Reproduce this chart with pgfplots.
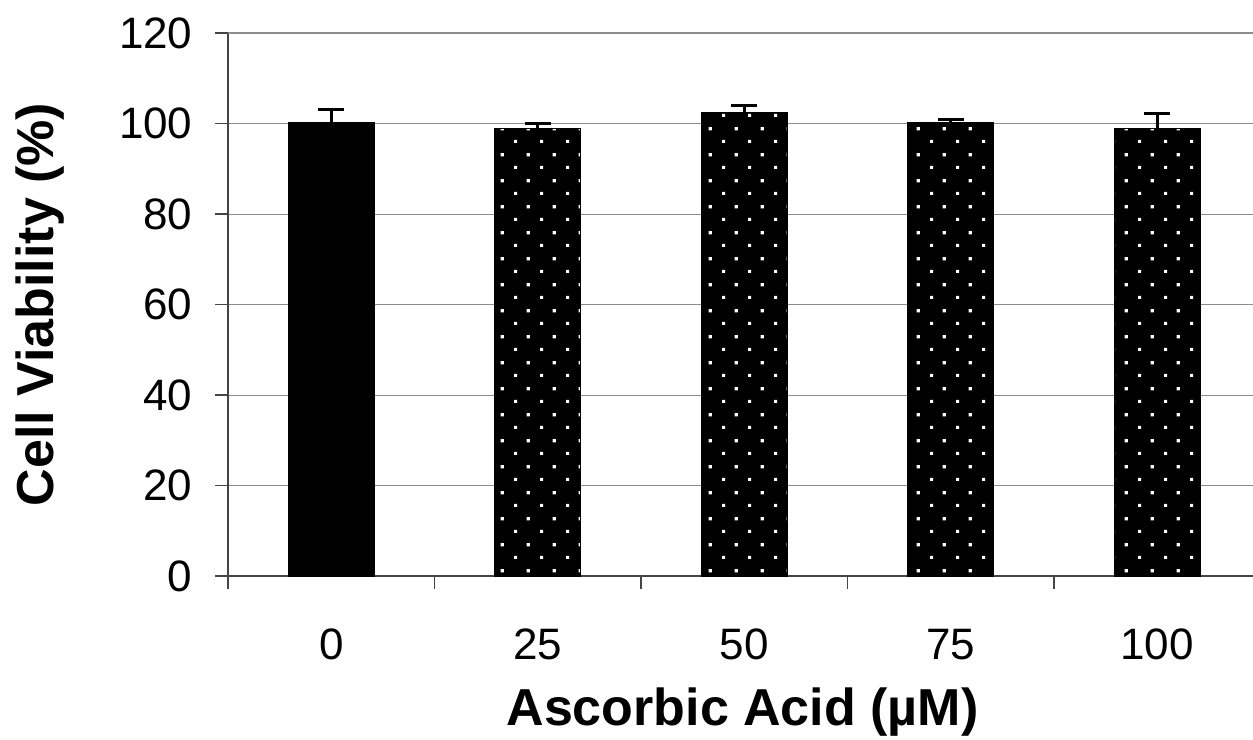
\documentclass[border=0pt]{standalone}
\usepackage{pgfplots}
\pgfplotsset{compat=1.18}
\usepackage{fontspec}
\setmainfont{Liberation Sans}
\usetikzlibrary{patterns}
\definecolor{axisgray}{HTML}{454545}
\definecolor{gridgray}{HTML}{8C8C8C}
\pgfdeclarepatternformonly{whitedots}{\pgfpointorigin}{\pgfpoint{25.7pt}{25.7pt}}{\pgfpoint{25.7pt}{25.7pt}}{%
  \pgfpathrectangle{\pgfpoint{0pt}{0pt}}{\pgfpoint{3.2pt}{3.2pt}}%
  \pgfpathrectangle{\pgfpoint{12.85pt}{12.85pt}}{\pgfpoint{3.2pt}{3.2pt}}%
  \pgfusepath{fill}}
\pgfplotstableread{
x val err
0 100.2 3.0
}\tblctrl
\pgfplotstableread{
x val err
1 98.9 1.1
2 102.4 1.5
3 100.3 0.5
4 98.9 3.3
}\tbltreat
\begin{document}
\begin{tikzpicture}
\path[use as bounding box] (0,0) rectangle (1253pt,739pt);
\begin{axis}[
  at={(228pt,163pt)}, anchor=south west,
  scale only axis, width=1025pt, height=543pt,
  xmin=-0.5, xmax=4.464, ymin=0, ymax=120,
  axis x line*=bottom, axis y line*=left,
  axis line style={draw=axisgray, line width=1.3pt},
  ybar, bar width=86pt, bar shift=0pt,
  ytick={0,20,...,120},
  ymajorgrids, grid style={draw=gridgray, line width=0.9pt},
  tick align=outside, major tick length=13pt,
  ytick style={draw=axisgray, line width=1.3pt},
  xtick={0,1,2,3,4},
  xticklabels={0,25,50,75,100},
  xtick style={draw=none},
  extra x ticks={-0.5,0.5,1.5,2.5,3.5},
  extra x tick labels={},
  extra x tick style={grid=none, xtick style={draw=axisgray, line width=1.3pt}},
  /pgf/number format/assume math mode=true,
  tick label style={font=\fontsize{44}{53}\selectfont},
  yticklabel style={anchor=east, xshift=-19pt},
  xticklabel style={anchor=base, yshift=-71pt},
  xlabel={Ascorbic Acid (µM)},
  ylabel={Cell Viability (\%)},
  label style={font=\fontsize{52}{62}\selectfont\bfseries},
  xlabel style={at={(axis description cs:0.502,-0.2505)}, anchor=center},
  ylabel style={at={(axis description cs:-0.183,0.5)}, anchor=center},
  error bars/y dir=plus, error bars/y explicit,
  error bars/error bar style={line width=3pt, black},
  error bars/error mark options={line width=3pt, black, mark size=13pt, rotate=90},
]
\addplot[fill=black, draw=black, line width=1pt] table[x=x, y=val, y error=err] {\tblctrl};
\addplot[fill=black, draw=black, line width=1pt, postaction={pattern=whitedots, pattern color=white}] table[x=x, y=val, y error=err] {\tbltreat};
\draw[draw=gridgray, line width=2.4pt] (rel axis cs:0,1) -- (rel axis cs:1,1);
\end{axis}
\end{tikzpicture}
\end{document}
